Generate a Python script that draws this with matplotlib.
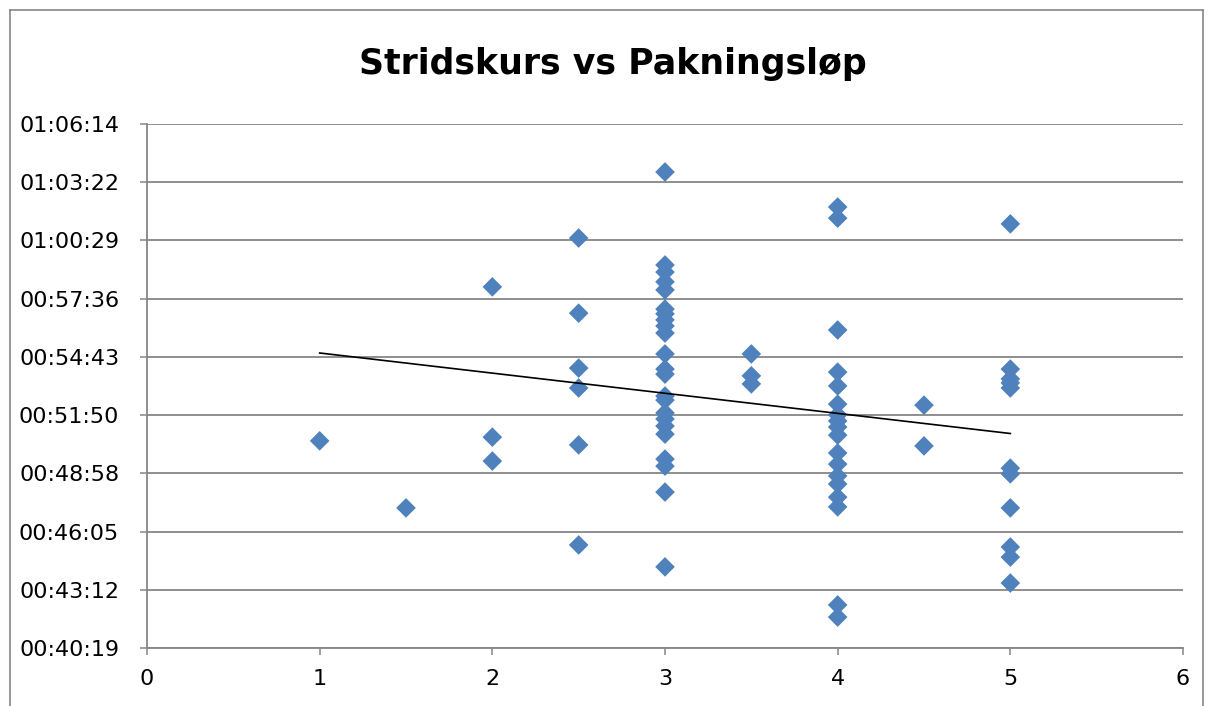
"""
Stridskurs vs Pakningsløp: scatter of course score against packing-run time,
with a linear trend line (Excel-style chart).
"""
import numpy as np
import matplotlib
matplotlib.use("Agg")
import matplotlib.pyplot as plt
from matplotlib.ticker import FuncFormatter, MultipleLocator
from matplotlib.lines import Line2D

BLUE = "#4F81BD"
GRID = "#868686"

# score on the course -> packing run times (h:mm:ss)
score_1 = [1.0]
time_1 = ["0:50:34"]
score_15 = [1.5]
time_15 = ["0:47:15"]
score_2 = [2.0] * 3
time_2 = ["0:58:11", "0:50:45", "0:49:34"]
score_25 = [2.5] * 6
time_25 = ["1:00:36", "0:56:53", "0:54:10", "0:53:11", "0:50:22", "0:45:25"]
score_3 = [3.0] * 23
time_3 = ["1:03:52", "0:59:16", "0:58:55", "0:58:26", "0:58:02", "0:57:05",
          "0:56:51", "0:56:33", "0:56:15", "0:55:54", "0:54:52", "0:54:07",
          "0:53:52", "0:52:47", "0:52:35", "0:51:57", "0:51:39", "0:51:18",
          "0:50:54", "0:49:40", "0:49:19", "0:48:02", "0:44:20"]
score_35 = [3.5] * 3
time_35 = ["0:54:52", "0:53:47", "0:53:23"]
score_4 = [4.0] * 18
time_4 = ["1:02:08", "1:01:35", "0:56:03", "0:53:58", "0:53:17", "0:52:23",
          "0:51:51", "0:51:33", "0:51:15", "0:50:51", "0:49:58", "0:49:25",
          "0:48:50", "0:48:26", "0:47:47", "0:47:18", "0:42:27", "0:41:51"]
score_45 = [4.5] * 2
time_45 = ["0:52:20", "0:50:19"]
score_5 = [5.0] * 11
time_5 = ["1:01:18", "0:54:07", "0:53:38", "0:53:26", "0:53:11", "0:49:13",
          "0:48:56", "0:47:15", "0:45:19", "0:44:49", "0:43:32"]


def to_sec(s):
    h, m, sec = (int(v) for v in s.split(":"))
    return h * 3600 + m * 60 + sec


x = np.array(score_1 + score_15 + score_2 + score_25 + score_3 + score_35
             + score_4 + score_45 + score_5)
y = np.array([to_sec(t) for t in time_1 + time_15 + time_2 + time_25 + time_3
              + time_35 + time_4 + time_45 + time_5], dtype=float)

# linear trend over the data range
k, m = np.polyfit(x, y, 1)
tx = np.array([x.min(), x.max()])

DAY = 86400.0


def fmt_time(v, pos):
    s = int(round(v))
    return f"{s // 3600:02d}:{(s % 3600) // 60:02d}:{s % 60:02d}"


fig = plt.figure(figsize=(12.08, 7.06), dpi=100)
ax = fig.add_axes([147 / 1208, 1 - 648 / 706, (1183 - 147) / 1208, (648 - 124) / 706])

ax.scatter(x, y, marker="D", s=100, color=BLUE, edgecolors="none", zorder=3)
ax.plot(tx, k * tx + m, color="black", lw=1.2, zorder=4)

ax.set_xlim(0, 6)
ax.set_ylim(0.028 * DAY, 0.046 * DAY)
ax.xaxis.set_major_locator(MultipleLocator(1))
ax.yaxis.set_major_locator(MultipleLocator(0.002 * DAY))
ax.yaxis.set_major_formatter(FuncFormatter(fmt_time))

ax.grid(axis="y", color=GRID, lw=1.3, zorder=0)
ax.set_axisbelow(True)
for side in ("top", "right"):
    ax.spines[side].set_visible(False)
for side in ("left", "bottom"):
    ax.spines[side].set_color(GRID)
    ax.spines[side].set_linewidth(1.3)
ax.tick_params(direction="out", length=5, width=1.1, color=GRID,
               labelsize=16, labelcolor="black")
ax.tick_params(axis="y", pad=15)
ax.tick_params(axis="x", pad=10)

fig.text(613 / 1208, 1 - 64 / 706, "Stridskurs vs Pakningsløp",
         ha="center", va="center", fontsize=25, fontweight="bold")

# chart frame
fc = GRID
fig.add_artist(Line2D([10 / 1208, 10 / 1208], [0, 1 - 10 / 706],
                      transform=fig.transFigure, color=fc, lw=1.2))
fig.add_artist(Line2D([10 / 1208, 1203 / 1208], [1 - 10 / 706, 1 - 10 / 706],
                      transform=fig.transFigure, color=fc, lw=1.2))
fig.add_artist(Line2D([1203 / 1208, 1203 / 1208], [0, 1 - 10 / 706],
                      transform=fig.transFigure, color=fc, lw=1.2))

fig.savefig("out.png", dpi=100)
plt.close(fig)
